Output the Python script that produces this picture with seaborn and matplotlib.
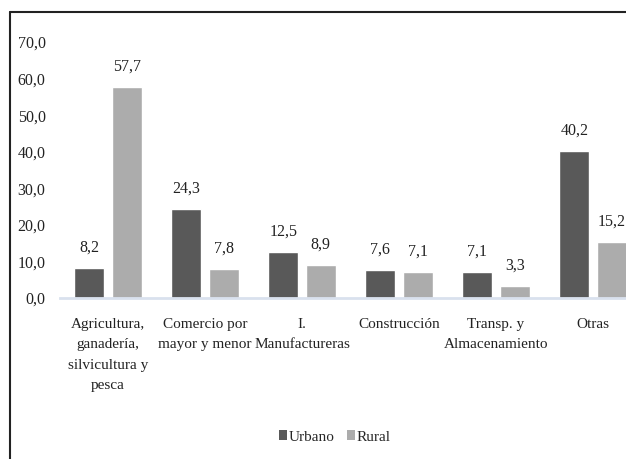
import matplotlib
matplotlib.use("Agg")
import matplotlib.pyplot as plt
from matplotlib.lines import Line2D
from matplotlib.patches import Patch
import seaborn as sns
import pandas as pd

categories = ["Agricultura,\nganadería,\nsilvicultura y\npesca", "Comercio por\nmayor y menor",
              "I.\nManufactureras", "Construcción", "Transp. y\nAlmacenamiento", "Otras"]
urbano = [8.2, 24.3, 12.5, 7.6, 7.1, 40.2]
rural = [57.7, 7.8, 8.9, 7.1, 3.3, 15.2]
series = ["Urbano", "Rural"]
yticks = [0, 10, 20, 30, 40, 50, 60, 70]

df = pd.DataFrame({
    "cat": categories * 2,
    "serie": ["Urbano"] * len(categories) + ["Rural"] * len(categories),
    "val": urbano + rural,
})

sns.set_theme(style="white")
plt.rcParams["font.family"] = ["Liberation Serif", "DejaVu Serif"]

fig = plt.figure(figsize=(6.26, 4.59), dpi=100)
ax = fig.add_axes([59.5 / 626, (459 - 298) / 459, 582 / 626, 256 / 459])

colors = {"Urbano": "#595959", "Rural": "#acacac"}
sns.barplot(data=df, x="cat", y="val", hue="serie", hue_order=series, palette=colors,
            width=0.77, gap=0.2, ax=ax, legend=False, saturation=1, errorbar=None)

for cont in ax.containers:
    ax.bar_label(cont, labels=[f"{v:.1f}".replace(".", ",") for v in cont.datavalues],
                 padding=9, fontsize=11.5, color="#222222")

ax.set_ylim(0, 70)
ax.set_xlim(-0.5, len(categories) - 0.5)
ax.set_yticks(yticks)
ax.set_yticklabels([f"{v:.1f}".replace(".", ",") for v in yticks], fontsize=11.5, color="#222222")
ax.tick_params(axis="y", length=0, pad=10)
ax.tick_params(axis="x", length=0, pad=14.5, labelsize=11, labelcolor="#222222")
for lbl in ax.get_xticklabels():
    lbl.set_linespacing(1.72)
ax.set_xlabel("")
ax.set_ylabel("")
for s in ["top", "right", "left"]:
    ax.spines[s].set_visible(False)
ax.spines["bottom"].set_color("#d9e1ee")
ax.spines["bottom"].set_linewidth(2)
ax.grid(False)

handles = [Patch(facecolor=colors[s], edgecolor="none") for s in series]
fig.legend(handles, series, loc="center", bbox_to_anchor=(335 / 626, 1 - 437 / 459),
           ncol=2, frameon=False, fontsize=11, handlelength=0.5, handleheight=0.6,
           handletextpad=0.15, columnspacing=0.8)

fig.add_artist(Line2D([10 / 626, 10 / 626], [0, 1 - 12 / 459], color="#222222", lw=1.5,
                      transform=fig.transFigure))
fig.add_artist(Line2D([10 / 626, 1], [1 - 12 / 459, 1 - 12 / 459], color="#222222", lw=1.5,
                      transform=fig.transFigure))

fig.savefig("out.png", dpi=100)
